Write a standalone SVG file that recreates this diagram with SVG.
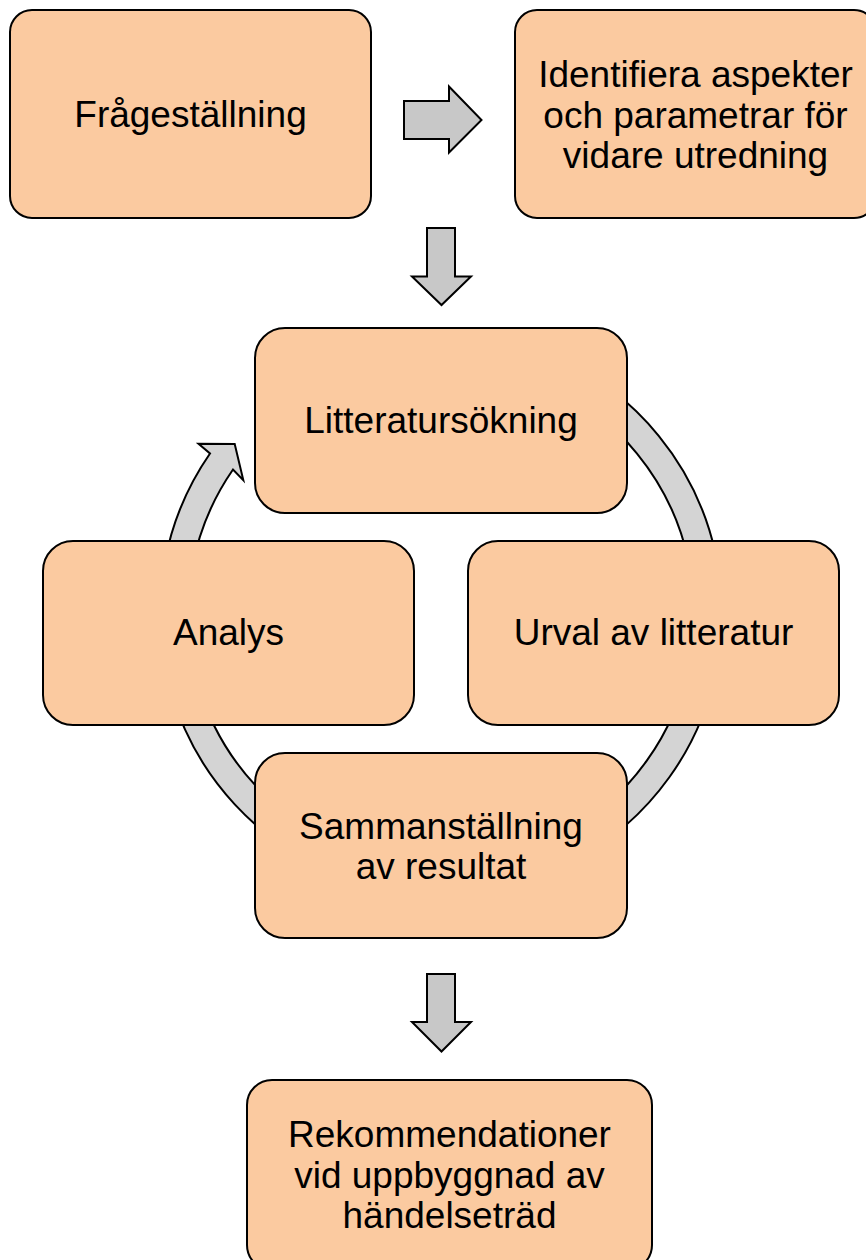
<svg xmlns="http://www.w3.org/2000/svg" width="866" height="1260" viewBox="0 0 866 1260">
  <style>
    .box { fill: #fbcaa0; stroke: #000; stroke-width: 2; }
    .lbl { font-family: "Liberation Sans", Arial, sans-serif; font-size: 37px; fill: #000; text-anchor: middle; }
    .blk { fill: #c8c8c8; stroke: #000; stroke-width: 2; stroke-linejoin: miter; }
    .ring { fill: #d4d4d4; stroke: #000; stroke-width: 2; stroke-linejoin: miter; }
  </style>
  <rect width="866" height="1260" fill="#ffffff"/>

  <!-- connectors: block arrows and the cycle ring -->
  <g id="connectors">
    <path class="ring" d="M 441 332.5 A 281 281 0 1 1 210.0 453.5 L 198.5 443.7 L 234.7 444.0 L 243.3 480.1 L 233.0 469.5 A 253 253 0 1 0 441 360.5 Z"/>
    <polygon class="blk" points="404,101 449,101 449,86.5 481.5,120 449,152.5 449,139 404,139"/>
    <polygon class="blk" points="427,228 455,228 455,276.5 471,276.5 441.5,305 412,276.5 427,276.5"/>
    <polygon class="blk" points="427,974 455,974 455,1022 471,1022 441.5,1051.5 412,1022 427,1022"/>
  </g>

  <g id="fragestallning">
    <rect class="box" x="10" y="10" width="361" height="208" rx="22"/>
    <text class="lbl" x="190.5" y="127">Frågeställning</text>
  </g>

  <g id="identifiera">
    <rect class="box" x="515" y="10" width="361" height="208" rx="22"/>
    <text class="lbl" x="695.5" y="87">Identifiera aspekter</text>
    <text class="lbl" x="695.5" y="127.5">och parametrar för</text>
    <text class="lbl" x="695.5" y="168">vidare utredning</text>
  </g>

  <g id="litteratursokning">
    <rect class="box" x="255" y="328" width="372" height="185" rx="30"/>
    <text class="lbl" x="441" y="433">Litteratursökning</text>
  </g>

  <g id="analys">
    <rect class="box" x="43" y="541" width="371" height="184" rx="30"/>
    <text class="lbl" x="228.5" y="645">Analys</text>
  </g>

  <g id="urval">
    <rect class="box" x="468" y="541" width="371" height="184" rx="30"/>
    <text class="lbl" x="653.5" y="645">Urval av litteratur</text>
  </g>

  <g id="sammanstallning">
    <rect class="box" x="255" y="753" width="372" height="185" rx="30"/>
    <text class="lbl" x="441" y="839">Sammanställning</text>
    <text class="lbl" x="441" y="879">av resultat</text>
  </g>

  <g id="rekommendationer">
    <rect class="box" x="247" y="1080" width="405" height="190" rx="25"/>
    <text class="lbl" x="449.5" y="1147">Rekommendationer</text>
    <text class="lbl" x="449.5" y="1188">vid uppbyggnad av</text>
    <text class="lbl" x="449.5" y="1228">händelseträd</text>
  </g>
</svg>
